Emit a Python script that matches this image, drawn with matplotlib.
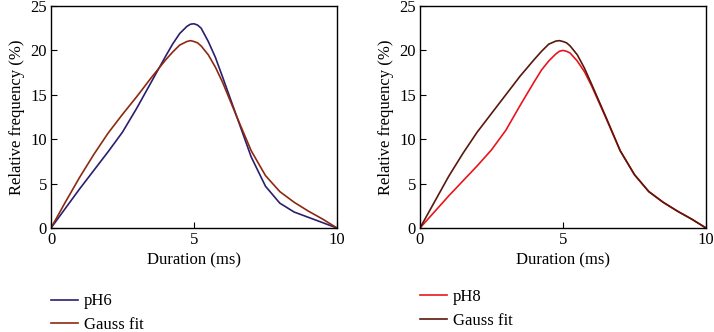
import matplotlib
matplotlib.use("Agg")
import matplotlib.pyplot as plt

# Duration axis (ms) shared by all series
duration = [0, 0.5, 1, 1.5, 2, 2.5, 3, 3.5, 4, 4.25, 4.5, 4.75, 4.875, 5, 5.125, 5.25,
            5.5, 5.75, 6, 6.5, 7, 7.5, 8, 8.5, 9, 9.5, 10]

ph6 = [0, 2.2, 4.4, 6.5, 8.6, 10.8, 13.5, 16.4, 19.3, 20.7, 21.9, 22.7, 22.95, 23.0, 22.85, 22.5,
       21.0, 19.2, 17.0, 12.5, 8.0, 4.7, 2.8, 1.8, 1.2, 0.6, 0]
gauss_left = [0, 2.9, 5.7, 8.3, 10.7, 12.8, 14.8, 16.9, 18.9, 19.8, 20.6, 21.0, 21.1, 21.0, 20.85, 20.5,
              19.5, 18.1, 16.4, 12.5, 8.7, 5.9, 4.1, 2.9, 1.9, 1.0, 0]

ph8 = [0, 1.8, 3.6, 5.3, 7.0, 8.8, 11.0, 13.8, 16.5, 17.8, 18.8, 19.6, 19.9, 20.0, 19.9, 19.7,
       18.8, 17.6, 16.0, 12.4, 8.7, 6.0, 4.1, 2.9, 1.9, 1.0, 0]
gauss_right = [0, 2.9, 5.8, 8.4, 10.8, 12.9, 15.0, 17.1, 19.0, 19.9, 20.7, 21.05, 21.1, 21.0, 20.85, 20.5,
               19.5, 18.0, 16.2, 12.5, 8.7, 6.0, 4.1, 2.9, 1.9, 1.0, 0]

x_ticks = [0, 5, 10]
y_ticks = [0, 5, 10, 15, 20, 25]

plt.rcParams["font.family"] = ["Liberation Serif", "DejaVu Serif"]
plt.rcParams["font.size"] = 12

W, H = 714, 332
fig = plt.figure(figsize=(W / 100, H / 100), dpi=100)

panels = [
    (51, ph6, "pH6", "#2b1e6e", gauss_left, "#8c2a10", -0.295),
    (420, ph8, "pH8", "#e8161c", gauss_right, "#5a170c", -0.275),
]

for left_px, data, name, col, fit, fit_col, leg_y in panels:
    ax = fig.add_axes([left_px / W, (H - 228) / H, 286 / W, 222 / H])
    ax.plot(duration, data, color=col, linewidth=1.2, label=name)
    ax.plot(duration, fit, color=fit_col, linewidth=1.2, label="Gauss fit")
    ax.set_xlim(0, 10)
    ax.set_ylim(0, 25)
    ax.set_xticks(x_ticks)
    ax.set_yticks(y_ticks)
    ax.tick_params(direction="in", length=4, width=0.8, top=False, right=False, pad=3)
    for s in ax.spines.values():
        s.set_linewidth(1.0)
    ax.set_xlabel("Duration (ms)", labelpad=3)
    ax.set_ylabel("Relative frequency (%)", labelpad=4)
    ax.legend(loc="upper left", bbox_to_anchor=(0, leg_y), frameon=False,
              borderaxespad=0, borderpad=0, handlelength=1.6, handletextpad=0.36,
              labelspacing=0.45, fontsize=12)

fig.savefig("out.png", dpi=100)
